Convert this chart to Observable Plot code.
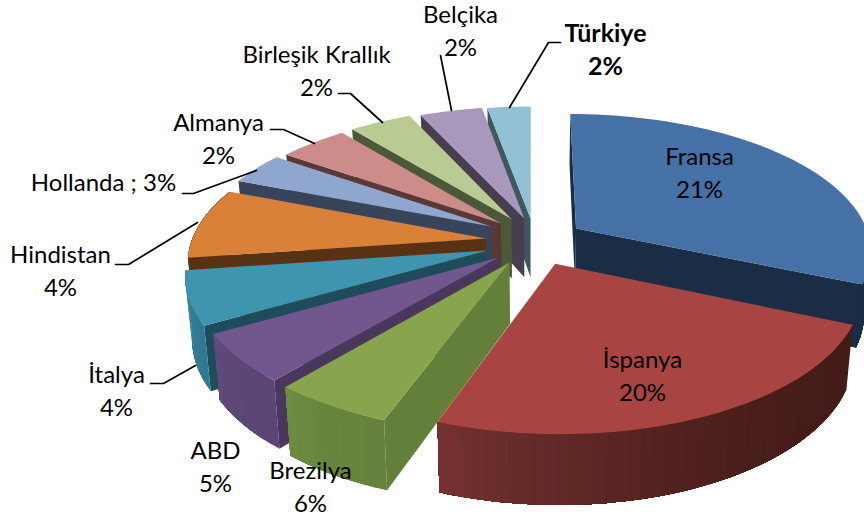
<!DOCTYPE html>
<html><head><meta charset="utf-8">
<style>html,body{margin:0;padding:0;background:#fff}svg{display:block}</style>
<script src="https://cdn.jsdelivr.net/npm/d3@7"></script>
<script src="https://cdn.jsdelivr.net/npm/@observablehq/plot@0.6"></script>
</head><body><div id="chart"></div>
<script>
(function(){
// Data
const countries = ["Fransa","İspanya","Brezilya","ABD","İtalya","Hindistan","Hollanda","Almanya","Birleşik Krallık","Belçika","Türkiye"];
const percents  = [21,20,6,5,4,4,3,2,2,2,2];
// Drawn slice sizes (degrees) as measured in the picture
const sliceDegrees = [113.5,86.5,20,20,22,29.5,13.5,16,14.5,14.5,10];

// Styling / layout
const topColors  = ["#4571A6","#A84543","#88A54D","#72578E","#3F95AF","#D98039","#8FA6CE","#CC8C8A","#B9CB92","#A898BC","#92C1D3"];
const edgeColors = ["#1B2D44","#431B18","#647F3A","#4A385C","#1F4C5A","#593214","#384459","#5A3838","#4C5938","#473F50","#3E5860"];
const wallLight  = ["#1B2D44","#753230","#6E8C42","#604A7C","#3C8DA6","#593214","#384459","#5A3838","#4C5938","#473F50","#3E5860"];
const wallDark   = ["#1B2D44","#431B18","#66823C","#5A4574","#2F7A91","#593214","#384459","#5A3838","#4C5938","#473F50","#3E5860"];
const explodeX = [.15,.075,-.076,-.113,-.15,-.158,-.142,-.109,-.073,-.029,-.007];
const explodeV = [-.06,.197,.187,.152,.102,.015,-.075,-.098,-.132,-.137,-.137];
const paintOrder = [0,10,9,8,7,6,5,4,3,2,1];
const cam = {cx:532, cy:236, rx:293, ry:134.5, p:.155, h0:60, h1:9, k:.98};

const labelX = [699,642,310,215,116,60,103,218,316,460,605];
const labelY = [170,373,484,464,388,268,180,136,68,28,47];
const leaders = [
  {id:"Belçika", xs:[440,451], ys:[55,110]},
  {id:"Türkiye", xs:[560,548,509], ys:[42,42,107]},
  {id:"Birleşik Krallık", xs:[338,350,382], ys:[93,93,122]},
  {id:"Almanya", xs:[270,283,314], ys:[129,129,143]},
  {id:"Hollanda", xs:[182,193,256], ys:[193,193,170]},
  {id:"Hindistan", xs:[115,128,197], ys:[264,264,222]},
  {id:"İtalya", xs:[150,163,195], ys:[383,383,365]}
];

const rad = d => d * Math.PI / 180;
function upper(X, v){
  const s = 1 / (1 - cam.p * v);
  return [cam.cx + cam.rx * X * s, cam.cy + cam.ry * v * s];
}
function lower(X, v){
  const [x, y] = upper(X, v);
  return [cam.cx + (x - cam.cx) * cam.k, y + cam.h0 + cam.h1 * v];
}
const rim = (i, deg) => [explodeX[i] + Math.sin(rad(deg)), explodeV[i] - Math.cos(rad(deg))];
function turn(q){ // sign of the wall's first corner in screen space
  const a = [q[1][0]-q[0][0], q[1][1]-q[0][1]], b = [q[2][0]-q[1][0], q[2][1]-q[1][1]];
  return a[0]*b[1] - a[1]*b[0];
}

const shapes = [];
let uid = 0;
function addShape(pts, color){
  const id = uid++;
  for (const [x, y] of pts) shapes.push({x, y, id, color});
}
const starts = [0, ...d3.cumsum(sliceDegrees)];
for (const i of paintOrder){
  const a = starts[i], b = starts[i + 1];
  const ap = [explodeX[i], explodeV[i]];
  // radial walls
  for (const [deg, sign] of [[a,-1],[b,1]]){
    const r = rim(i, deg);
    const q = [upper(...ap), upper(...r), lower(...r), lower(...ap)];
    if (turn(q) * sign > 0) addShape(q, edgeColors[i]);
  }
  // outer wall, split so that its shade can change along the arc; each
  // piece runs on to the slice's far end so no seam shows between pieces
  const steps = Math.max(4, Math.ceil((b - a) / 2));
  const seq = d3.range(steps + 1).map(j => a + (b - a) * j / steps);
  for (let j = 0; j < steps; j++){
    const d0 = seq[j], d1 = seq[j + 1];
    if (Math.cos(rad((d0 + d1) / 2)) > 0.02) continue;
    const t = (((d0 + d1) / 2) - a) / (b - a);
    const c = d3.interpolateRgb(wallDark[i], wallLight[i])(t * t);
    const span = seq.slice(j);
    addShape([...span.map(d => upper(...rim(i, d))), ...span.reverse().map(d => lower(...rim(i, d)))], c);
  }
  // top face
  addShape([upper(...ap), ...seq.map(d => upper(...rim(i, d)))], topColors[i]);
}

const labels = countries.map((c, i) => ({
  text: c === "Hollanda" ? `${c} ; ${percents[i]}%` : `${c}\n${percents[i]}%`,
  x: labelX[i], y: labelY[i], bold: c === "Türkiye"
}));
const leaderRows = leaders.flatMap(l => l.xs.map((x, j) => ({id: l.id, x, y: l.ys[j]})));

const chart = Plot.plot({
  width: 864, height: 520,
  margin: 0,
  x: {domain: [0, 864], range: [0, 864], axis: null},
  y: {domain: [0, 520], range: [0, 520], axis: null},
  color: {type: "identity"},
  marks: [
    Plot.line(shapes, {x: "x", y: "y", z: "id", fill: "color", stroke: null, curve: "linear-closed"}),
    Plot.line(leaderRows, {x: "x", y: "y", z: "id", stroke: "#000", strokeWidth: 1.7, curve: "linear"}),
    Plot.text(labels.filter(d => !d.bold), {x: "x", y: "y", text: "text", fill: "#000", fontFamily: "Lato", fontSize: 24, lineHeight: 1.375, textAnchor: "middle"}),
    Plot.text(labels.filter(d => d.bold), {x: "x", y: "y", text: "text", fill: "#000", fontFamily: "Lato", fontSize: 25, fontWeight: "bold", lineHeight: 1.32, textAnchor: "middle"})
  ]
});
document.getElementById("chart").appendChild(chart);
})();
</script></body></html>
